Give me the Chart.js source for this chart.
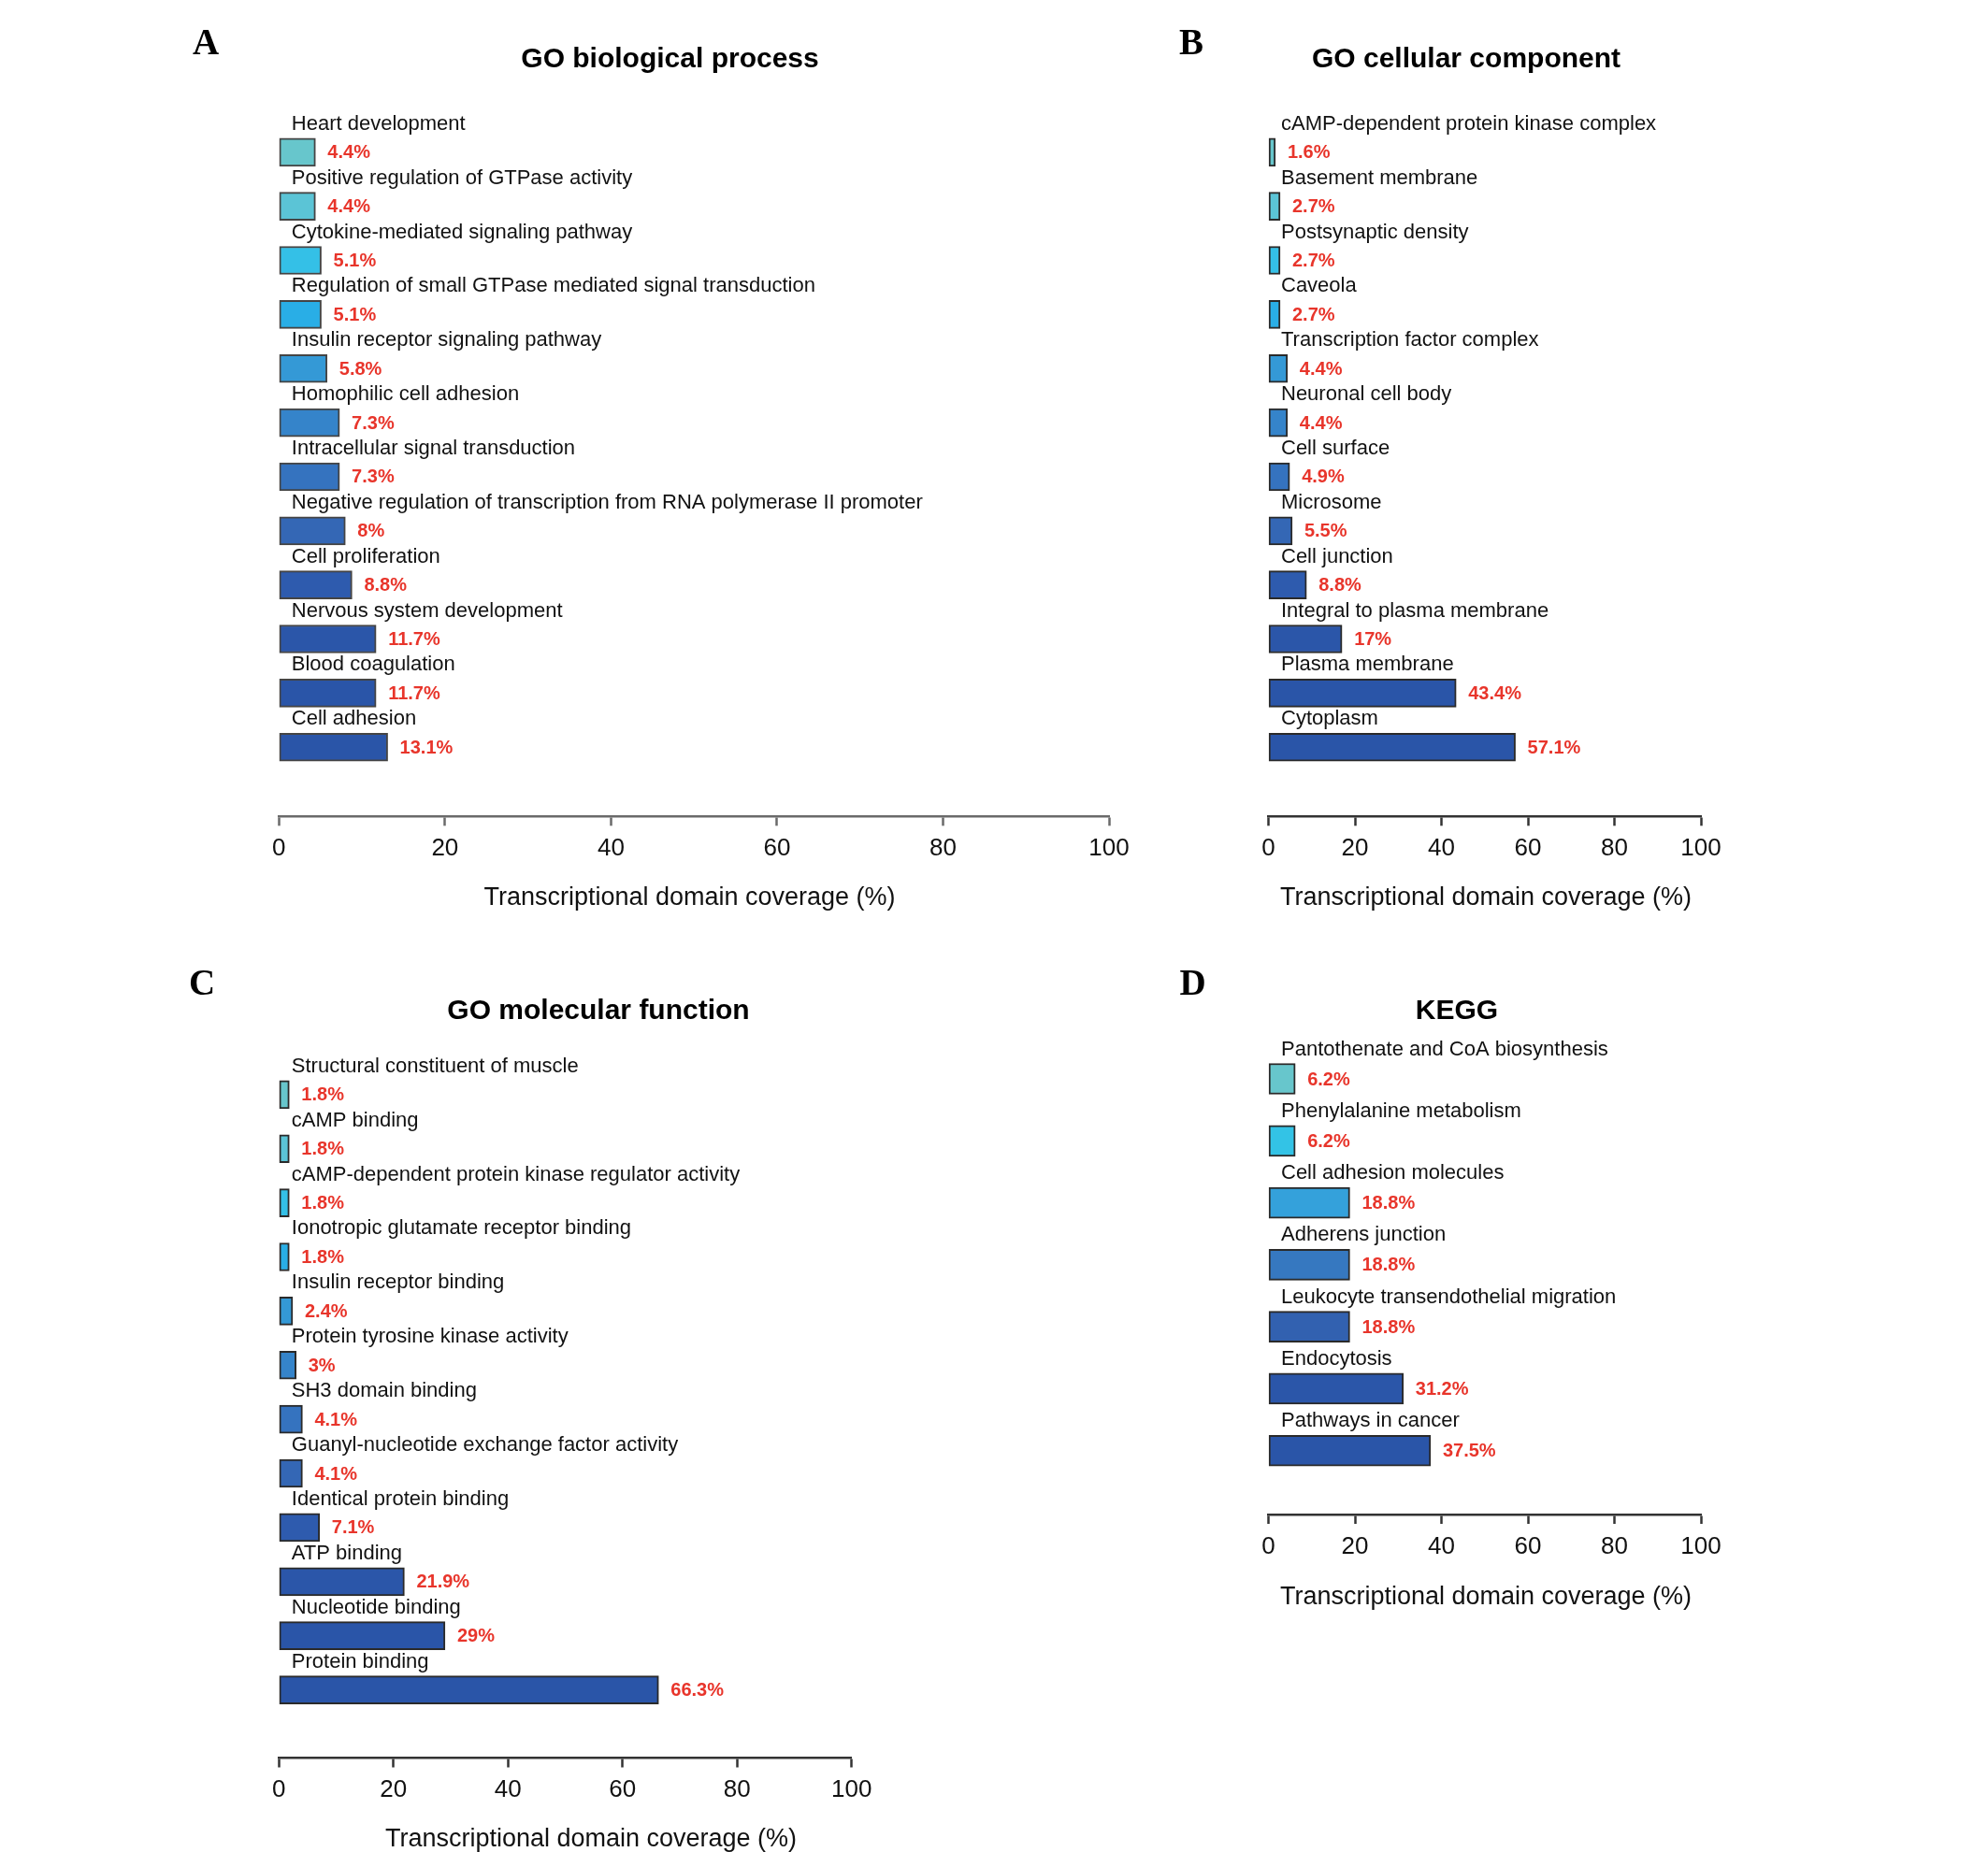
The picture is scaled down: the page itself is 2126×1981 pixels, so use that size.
<!DOCTYPE html>
<html>
<head>
<meta charset="utf-8">
<script src="https://cdn.jsdelivr.net/npm/chart.js@4.4.1/dist/chart.umd.min.js"></script>
<style>
html, body { margin: 0; padding: 0; background: #ffffff; }
#page { position: relative; width: 2126px; height: 1981px; background: #ffffff; overflow: hidden; }
#page canvas { position: absolute; }
</style>
</head>
<body>
<div id="page">
  <canvas id="chartA"></canvas>
  <canvas id="chartB"></canvas>
  <canvas id="chartC"></canvas>
  <canvas id="chartD"></canvas>
</div>
<script>
// ---------------- DATA ----------------
const bpCategories = [
  "Heart development",
  "Positive regulation of GTPase activity",
  "Cytokine-mediated signaling pathway",
  "Regulation of small GTPase mediated signal transduction",
  "Insulin receptor signaling pathway",
  "Homophilic cell adhesion",
  "Intracellular signal transduction",
  "Negative regulation of transcription from RNA polymerase II promoter",
  "Cell proliferation",
  "Nervous system development",
  "Blood coagulation",
  "Cell adhesion"
];
const bpValues = [4.4, 4.4, 5.1, 5.1, 5.8, 7.3, 7.3, 8, 8.8, 11.7, 11.7, 13.1];

const ccCategories = [
  "cAMP-dependent protein kinase complex",
  "Basement membrane",
  "Postsynaptic density",
  "Caveola",
  "Transcription factor complex",
  "Neuronal cell body",
  "Cell surface",
  "Microsome",
  "Cell junction",
  "Integral to plasma membrane",
  "Plasma membrane",
  "Cytoplasm"
];
const ccValues = [1.6, 2.7, 2.7, 2.7, 4.4, 4.4, 4.9, 5.5, 8.8, 17, 43.4, 57.1];

const mfCategories = [
  "Structural constituent of muscle",
  "cAMP binding",
  "cAMP-dependent protein kinase regulator activity",
  "Ionotropic glutamate receptor binding",
  "Insulin receptor binding",
  "Protein tyrosine kinase activity",
  "SH3 domain binding",
  "Guanyl-nucleotide exchange factor activity",
  "Identical protein binding",
  "ATP binding",
  "Nucleotide binding",
  "Protein binding"
];
const mfValues = [1.8, 1.8, 1.8, 1.8, 2.4, 3, 4.1, 4.1, 7.1, 21.9, 29, 66.3];

const keggCategories = [
  "Pantothenate and CoA biosynthesis",
  "Phenylalanine metabolism",
  "Cell adhesion molecules",
  "Adherens junction",
  "Leukocyte transendothelial migration",
  "Endocytosis",
  "Pathways in cancer"
];
const keggValues = [6.2, 6.2, 18.8, 18.8, 18.8, 31.2, 37.5];

const xTickValues = [0, 20, 40, 60, 80, 100];
const xAxisTitle = "Transcriptional domain coverage (%)";

// ---------------- STYLES ----------------
const palette12 = ["#67c6cc", "#5bc4d6", "#34c0e7", "#29aee6", "#3499d6", "#3584ca",
                   "#3573bf", "#3467b5", "#2e5bae", "#2b56a9", "#2a55a8", "#2a55a8"];
const palette7 = ["#67c6cc", "#33c3e6", "#34a1db", "#3678c0", "#3261b0", "#2b56a9", "#2a55a8"];

const FONT_SANS = '"Liberation Sans", Arial, Helvetica, sans-serif';
const FONT_SERIF = '"Liberation Serif", "Times New Roman", serif';
const AXIS_BOX_H = 70;

// Panel geometry (page pixel coordinates)
const panels = [
  { id: "chartA", letter: "A", title: "GO biological process", cats: bpCategories, vals: bpValues, colors: palette12,
    canvas: { l: 0, t: 0, w: 1240, h: 990 }, x0: 298.3, x100: 1186, top: 133.9, axisY: 873.3, yMax: 12.28, barT: 30,
    letterPos: [220, 58], titlePos: [716.5, 72], xlabPos: [737.5, 968], axisColor: "#6a6a6a", barBorder: "#444444" },
  { id: "chartB", letter: "B", title: "GO cellular component", cats: ccCategories, vals: ccValues, colors: palette12,
    canvas: { l: 1240, t: 0, w: 886, h: 990 }, x0: 1356.5, x100: 1819, top: 133.9, axisY: 873.3, yMax: 12.28, barT: 30,
    letterPos: [1274, 58], titlePos: [1568, 72], xlabPos: [1589, 968], axisColor: "#333333", barBorder: "#2a2a2a" },
  { id: "chartC", letter: "C", title: "GO molecular function", cats: mfCategories, vals: mfValues, colors: palette12,
    canvas: { l: 0, t: 990, w: 1063, h: 991 }, x0: 298.3, x100: 910.7, top: 1141.9, axisY: 1880.5, yMax: 12.26, barT: 30,
    letterPos: [216, 1064], titlePos: [640, 1090], xlabPos: [632, 1975], axisColor: "#333333", barBorder: "#2a2a2a" },
  { id: "chartD", letter: "D", title: "KEGG", cats: keggCategories, vals: keggValues, colors: palette7,
    canvas: { l: 1063, t: 990, w: 1063, h: 991 }, x0: 1356.5, x100: 1819, top: 1120.9, axisY: 1620, yMax: 7.03, barT: 33,
    letterPos: [1275.5, 1064], titlePos: [1558, 1090], xlabPos: [1589, 1716], axisColor: "#333333", barBorder: "#2a2a2a" }
];

// Plugin that draws panel letter, title, axis title, category labels and value labels
const annotatePlugin = {
  id: "annotate",
  afterDatasetsDraw(chart) {
    const p = chart.options.plugins.annotate;
    if (!p) return;
    const ctx = chart.ctx;
    const ox = p.canvas.l, oy = p.canvas.t;
    ctx.save();
    ctx.fillStyle = "#000";
    ctx.font = "bold 39px " + FONT_SERIF;
    ctx.textAlign = "center";
    ctx.textBaseline = "alphabetic";
    ctx.fillText(p.letter, p.letterPos[0] - ox, p.letterPos[1] - oy);
    ctx.font = "bold 30px " + FONT_SANS;
    ctx.fillText(p.title, p.titlePos[0] - ox, p.titlePos[1] - oy);
    ctx.font = "27px " + FONT_SANS;
    ctx.fillStyle = "#111";
    ctx.fillText(xAxisTitle, p.xlabPos[0] - ox, p.xlabPos[1] - oy);

    const meta = chart.getDatasetMeta(0);
    meta.data.forEach((bar, i) => {
      const props = bar.getProps(["x", "y", "base", "height"], true);
      const topEdge = props.y - props.height / 2;
      ctx.font = "22px " + FONT_SANS;
      ctx.fillStyle = "#111";
      ctx.textAlign = "left";
      ctx.textBaseline = "alphabetic";
      ctx.fillText(p.cats[i], props.base + 13, topEdge - 9);
      ctx.font = "bold 20px " + FONT_SANS;
      ctx.fillStyle = "#e8352b";
      ctx.textBaseline = "middle";
      ctx.fillText(p.vals[i] + "%", props.x + 13, props.y + 1);
    });
    ctx.restore();
  }
};

panels.forEach(p => {
  const cv = document.getElementById(p.id);
  cv.width = p.canvas.w;
  cv.height = p.canvas.h;
  cv.style.left = p.canvas.l + "px";
  cv.style.top = p.canvas.t + "px";
  cv.style.width = p.canvas.w + "px";
  cv.style.height = p.canvas.h + "px";

  const padLeft = p.x0 - p.canvas.l;
  const padRight = p.canvas.l + p.canvas.w - p.x100;
  const padTop = p.top - p.canvas.t;
  const padBottom = p.canvas.t + p.canvas.h - p.axisY - AXIS_BOX_H;

  new Chart(cv, {
    type: "bar",
    data: {
      datasets: [{
        data: p.vals.map((v, i) => ({ x: v, y: i })),
        backgroundColor: p.colors,
        borderColor: p.barBorder,
        borderWidth: 2,
        borderSkipped: false,
        barThickness: p.barT
      }]
    },
    options: {
      indexAxis: "y",
      responsive: false,
      animation: false,
      devicePixelRatio: 1,
      layout: { padding: { left: padLeft, right: padRight, top: padTop, bottom: padBottom } },
      scales: {
        y: {
          type: "linear",
          reverse: true,
          min: -0.5,
          max: p.yMax,
          bounds: "data",
          offset: false,
          grid: { offset: false },
          display: false
        },
        x: {
          type: "linear",
          min: 0,
          max: 100,
          bounds: "data",
          offset: false,
          afterBuildTicks: (scale) => { scale.ticks = xTickValues.map(v => ({ value: v })); },
          afterFit: (scale) => { scale.height = AXIS_BOX_H; },
          border: { display: true, color: p.axisColor, width: 2.5 },
          grid: { display: true, offset: false, drawOnChartArea: false, drawTicks: true, tickLength: 10, tickColor: p.axisColor, tickWidth: 2.5 },
          ticks: { color: "#111", padding: 9, font: { family: FONT_SANS, size: 26 }, maxRotation: 0 }
        }
      },
      plugins: {
        legend: { display: false },
        tooltip: { enabled: false },
        title: { display: false },
        annotate: p
      }
    },
    plugins: [annotatePlugin]
  });
});
</script>
</body>
</html>
